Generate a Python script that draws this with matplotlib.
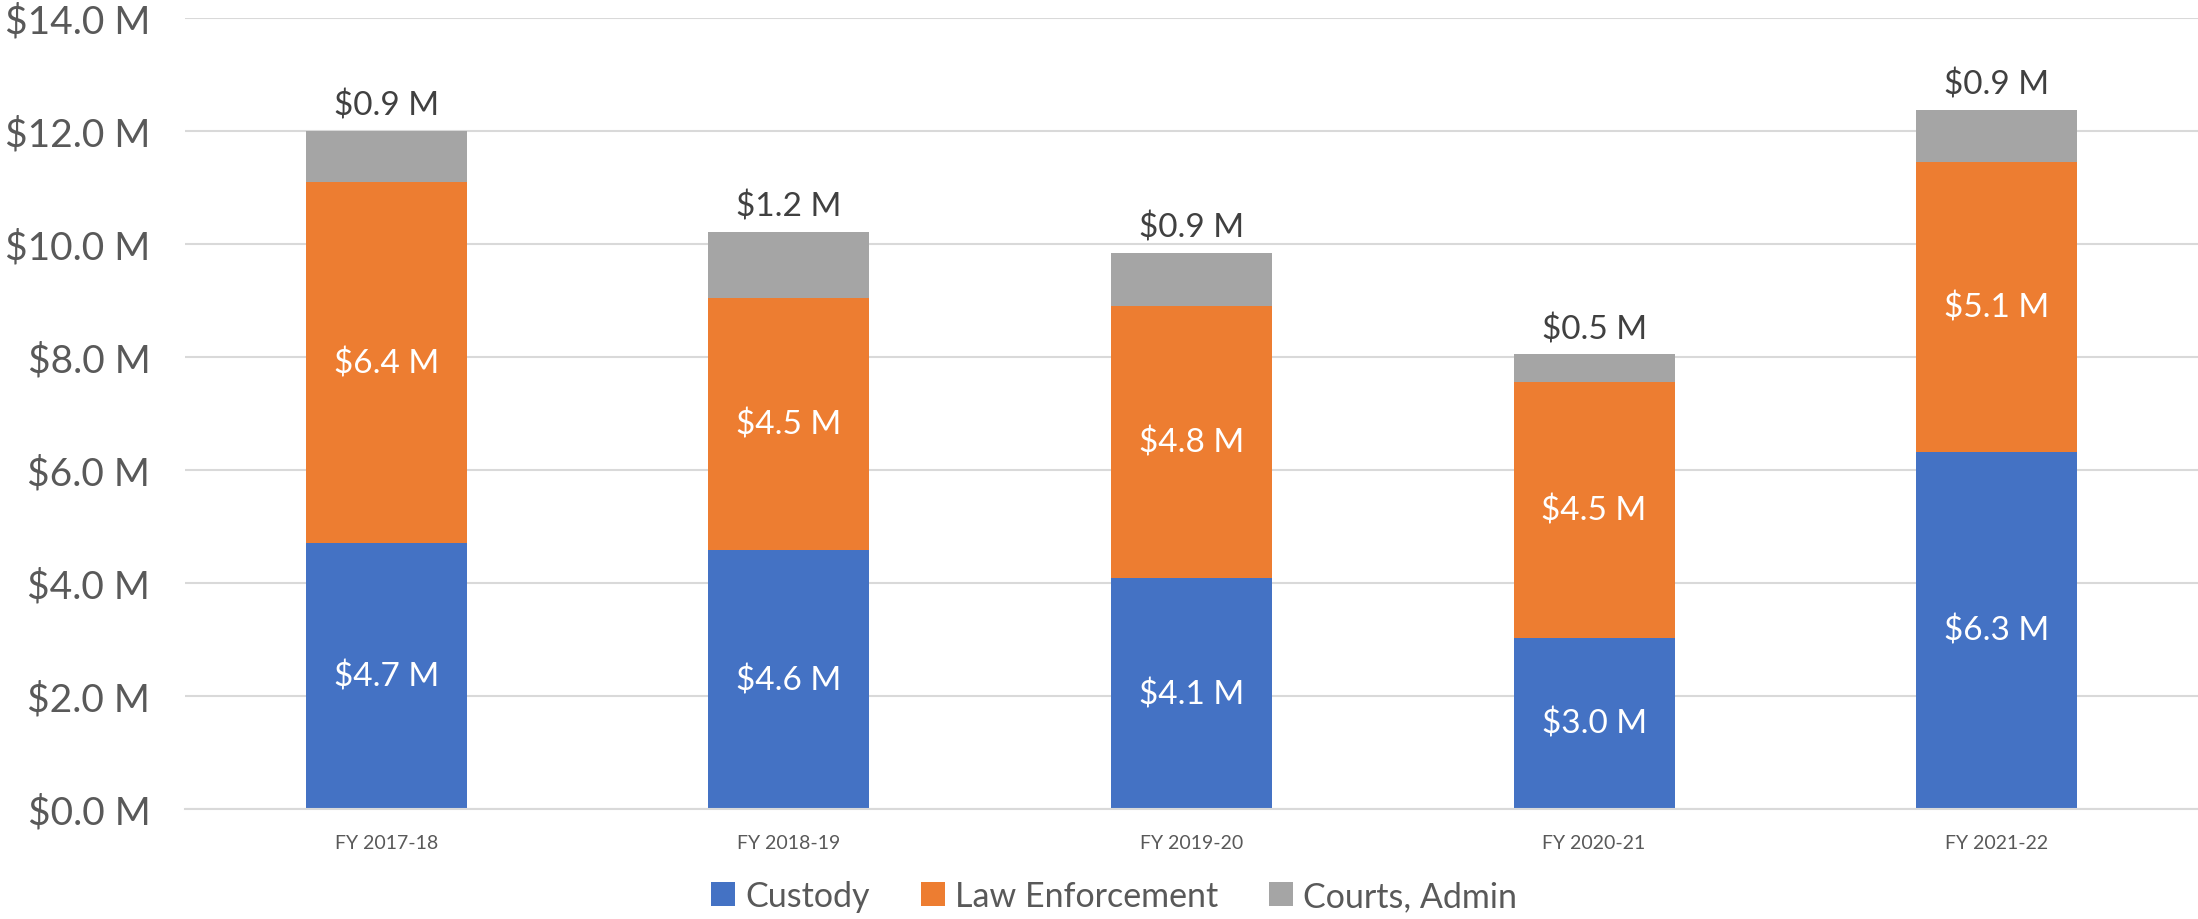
import numpy as np
import matplotlib
matplotlib.use("Agg")
import matplotlib.pyplot as plt

# fiscal years and cost components ($M)
years = ["FY 2017-18", "FY 2018-19", "FY 2019-20", "FY 2020-21", "FY 2021-22"]
custody = [4.70, 4.58, 4.08, 3.03, 6.32]
law_enf = [6.40, 4.47, 4.82, 4.53, 5.13]
courts = [0.90, 1.16, 0.94, 0.49, 0.92]

series_names = ["Custody", "Law Enforcement", "Courts, Admin"]
colors = ["#4472C4", "#ED7D31", "#A5A5A5"]

plt.rcParams['font.family'] = ['Lato', 'DejaVu Sans']

fig = plt.figure(figsize=(21.98, 9.2), dpi=100)
ax = fig.add_axes([0.0842, 0.1196, 0.9158, 0.8597])

x = np.arange(len(years))
width = 0.4
bottom = np.zeros(len(years))
for vals, name, col in zip([custody, law_enf, courts], series_names, colors):
    vals = np.array(vals)
    ax.bar(x, vals, width, bottom=bottom, color=col, label=name, zorder=2)
    if name != "Courts, Admin":
        for xi, b, v in zip(x, bottom, vals):
            ax.text(xi, b + v / 2, "$%.1f M" % v, ha='center', va='center',
                    color='white', fontsize=24, zorder=3)
    else:
        for xi, b, v in zip(x, bottom, vals):
            ax.text(xi, b + v + 0.18, "$%.1f M" % v, ha='center', va='bottom',
                    color='#404040', fontsize=24, zorder=3)
    bottom = bottom + vals

ax.set_xlim(-0.5, len(years) - 0.5)
ax.set_ylim(0, 14)
ax.set_yticks(np.arange(0, 15, 2))
ax.set_yticklabels(["$%.1f M" % v for v in np.arange(0, 15, 2)], fontsize=28, color='#595959')
ax.set_xticks(x)
ax.set_xticklabels(years, fontsize=14, color='#595959')
ax.tick_params(axis='both', length=0)
ax.tick_params(axis='y', pad=25)
ax.tick_params(axis='x', pad=18)
ax.grid(axis='y', color='#D9D9D9', linewidth=1.5, zorder=0)
for s in ['top', 'right', 'left']:
    ax.spines[s].set_visible(False)
ax.spines['bottom'].set_color('#D9D9D9')
ax.spines['bottom'].set_linewidth(1.5)

fig.legend(loc='center', bbox_to_anchor=(0.507, 0.025), ncol=3, frameon=False,
           fontsize=24.5, labelcolor='#595959', handlelength=0.7, handleheight=0.7,
           handletextpad=0.3, columnspacing=1.5)

fig.savefig("out.png", dpi=100)
